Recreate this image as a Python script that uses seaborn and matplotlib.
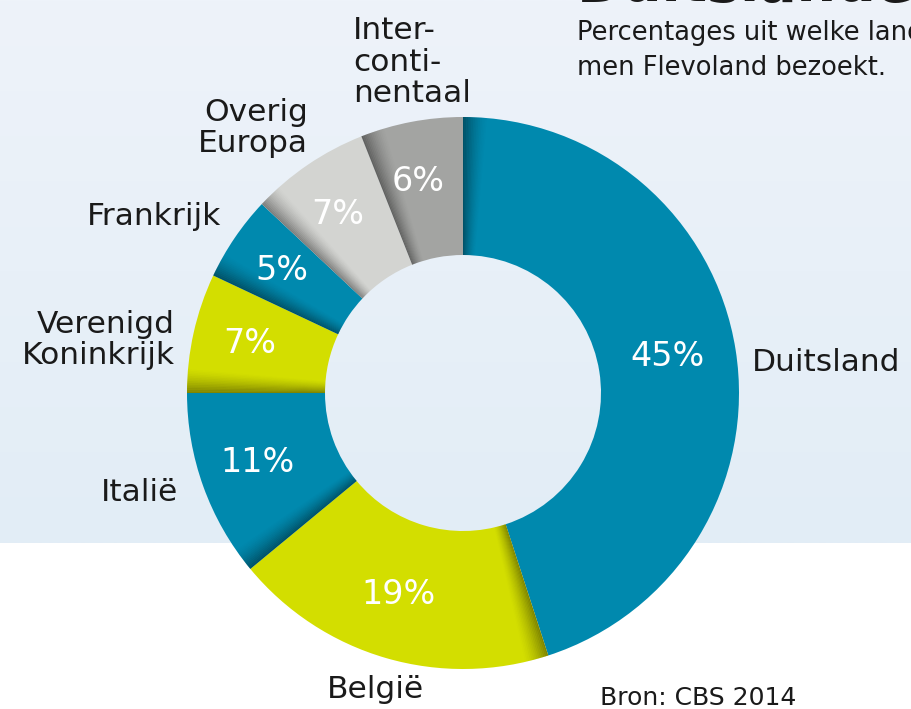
import numpy as np
import seaborn as sns
import matplotlib.pyplot as plt
from matplotlib.patches import Wedge

sns.set_theme(style="white")
plt.rcParams['font.family'] = ['DejaVu Sans']

# data
countries = ["Duitsland", "België", "Italië", "Verenigd\nKoninkrijk",
             "Frankrijk", "Overig\nEuropa", "Inter-\nconti-\nnentaal"]
shares = [45, 19, 11, 7, 5, 7, 6]
colors = ["#0089ae", "#d3de00", "#0089ae", "#d3de00",
          "#0089ae", "#d3d4d1", "#a3a4a2"]

# label placement in pie units (layout only)
label_pos = [(1.047, 0.112), (-0.319, -1.076), (-1.033, -0.359), (-1.043, 0.192),
             (-0.877, 0.638), (-0.562, 0.960), (-0.399, 1.199)]
label_ha = ["left", "center", "right", "right", "right", "right", "left"]

W, H = 912, 709
fig = plt.figure(figsize=(W / 100, H / 100), dpi=100)
fig.patch.set_facecolor("white")

# light blue gradient band behind the upper part
bg = fig.add_axes([0, (H - 543) / H, 1, 543 / H])
grad = np.linspace(0, 1, 256)[:, None]
top = np.array([0xee, 0xf3, 0xfa]) / 255
bot = np.array([0xe2, 0xed, 0xf6]) / 255
img = top[None, None, :] * (1 - grad[..., None]) + bot[None, None, :] * grad[..., None]
bg.imshow(img, aspect="auto", extent=[0, 1, 0, 1])
bg.set_axis_off()

# donut
cx, cy, r = 463, 393, 276
ax = fig.add_axes([(cx - r) / W, (H - cy - r) / H, 2 * r / W, 2 * r / H])
wedges, _, autotexts = ax.pie(
    shares, colors=colors, startangle=90, counterclock=False,
    autopct=lambda p: f"{p:.0f}%", pctdistance=0.77,
    wedgeprops=dict(width=0.5, edgecolor="none"),
    textprops=dict(color="white", fontsize=24))

# soft shadow on the leading edge of each slice
for w in wedges:
    a0 = w.theta2
    n = 14
    span = 5
    for k in range(n):
        t1 = a0 - span * (k + 1) / n
        t2 = a0 - span * k / n
        alpha = 0.4 * (1 - k / n) ** 1.5
        ax.add_patch(Wedge((0, 0), 1, t1, t2, width=0.5,
                           facecolor="black", alpha=alpha, edgecolor="none"))

for t in autotexts:
    t.set_zorder(5)
    x, y = t.get_position()
    t.set_position((x - 0.02, y + 0.01))

ax.set_xlim(-1, 1)
ax.set_ylim(-1, 1)
ax.set_axis_off()

for name, (x, y), ha in zip(countries, label_pos, label_ha):
    ax.text(x, y, name, ha=ha, va="center", multialignment=ha,
            fontsize=22.5, color="#1a1a1a", linespacing=1.1)

# title (cut off at the top edge), subtitle and source
fig.text(577 / W, 1 - 1 / H, "Duitslanders", fontsize=40, fontweight="bold",
         color="#1a1a1a", va="baseline", ha="left")
fig.text(577 / W, 1 - 40 / H, "Percentages uit welke landen",
         fontsize=18.5, color="#1a1a1a", va="baseline", ha="left")
fig.text(577 / W, 1 - 75 / H, "men Flevoland bezoekt.",
         fontsize=18.5, color="#1a1a1a", va="baseline", ha="left")
fig.text(600 / W, 1 - 705 / H, "Bron: CBS 2014", fontsize=18,
         color="#1a1a1a", va="baseline", ha="left")

fig.savefig("out.png", dpi=100)
